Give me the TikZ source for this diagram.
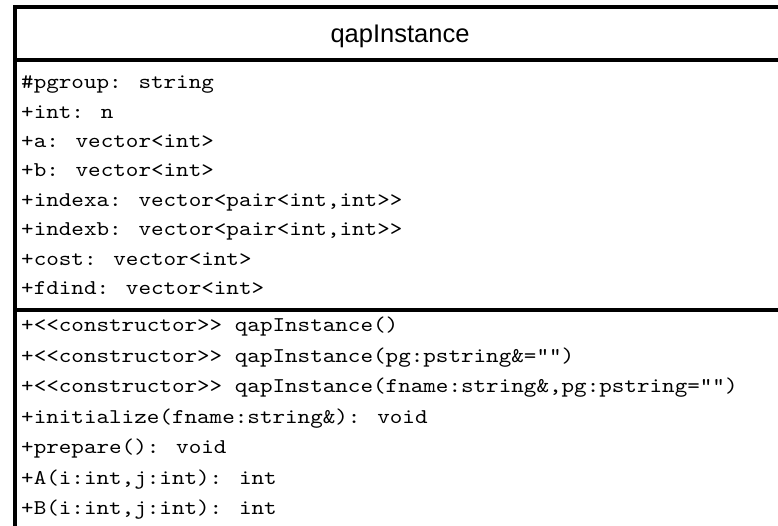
\documentclass[tikz,border=0pt]{standalone}
\usepackage{fontspec}
\setmainfont{Liberation Sans}
\newfontfamily\umlmono[Extension=.otf, FakeStretch=1.14]{lmmono10-regular}
\begin{document}
\begin{tikzpicture}[x=1pt,y=-1pt,
  frame/.style={line width=3.6pt, black},
  member/.style={anchor=mid west, inner sep=0pt, font=\umlmono\fontsize{21}{25}\selectfont},
  classname/.style={anchor=center, inner sep=0pt, font=\fontsize{25.5}{30}\selectfont}]
  \useasboundingbox (0,0) rectangle (778,525);
  \fill[white] (0,0) rectangle (778,525);
  \clip (0,0) rectangle (778,525);
  % class box, running past the right and bottom edges
  \draw[frame] (15,7) rectangle (795,560);
  \draw[frame] (15,60) -- (795,60);
  \draw[frame] (15,310) -- (795,310);
  % class name
  \node[classname] (title) at (400,36) {qapInstance};
  % attributes
  \foreach \t [count=\i from 0] in {
    {\#pgroup: string},
    {+int: n},
    {+a: vector<int>},
    {+b: vector<int>},
    {+indexa: vector<pair<int,int>{}>},
    {+indexb: vector<pair<int,int>{}>},
    {+cost: vector<int>},
    {+fdind: vector<int>}}
    \node[member] (attr\i) at (21,{86+29.4*\i}) {\t};
  % operations
  \foreach \t [count=\i from 0] in {
    {+<{}<constructor>{}> qapInstance()},
    {+<{}<constructor>{}> qapInstance(pg:pstring\&="")},
    {+<{}<constructor>{}> qapInstance(fname:string\&,pg:pstring="")},
    {+initialize(fname:string\&): void},
    {+prepare(): void},
    {+A(i:int,j:int): int},
    {+B(i:int,j:int): int}}
    \node[member] (op\i) at (21,{329+30.5*\i}) {\t};
\end{tikzpicture}
\end{document}
